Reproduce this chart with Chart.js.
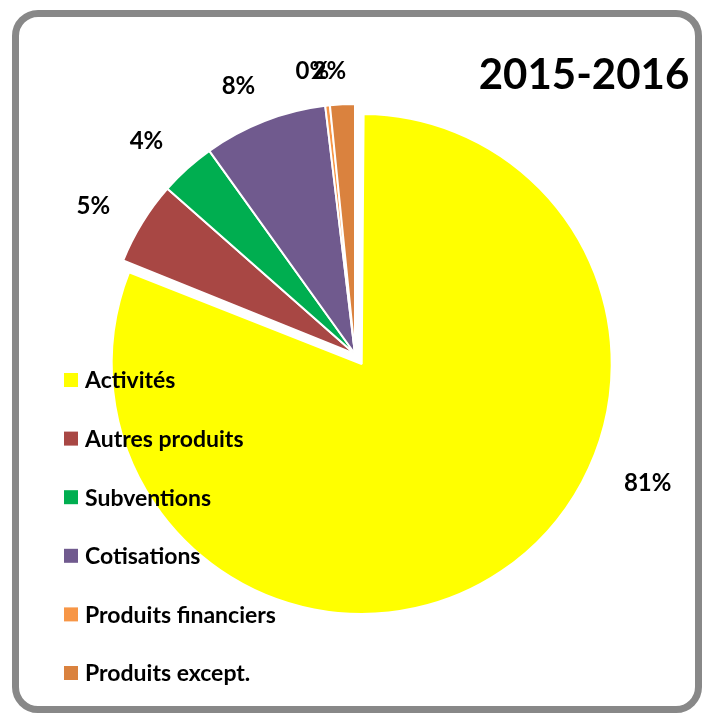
<!DOCTYPE html>
<html lang="fr">
<head>
    <meta charset="UTF-8">
    <title>Produits 2015-2016</title>
    <script src="https://cdn.jsdelivr.net/npm/chart.js"></script>
    <style>
        body { margin: 0; background: #fff; }
        .cadre {
            position: absolute; left: 12px; top: 10px;
            width: 676px; height: 689px;
            border: 7px solid #888888; border-radius: 26px;
        }
        #chart { position: absolute; left: 0; top: 0; }
    </style>
</head>
<body>
    <div class="cadre"></div>
    <canvas id="chart" width="704" height="714"></canvas>

    <script>
        const titre = '2015-2016';
        const categories = ['Activités', 'Autres produits', 'Subventions', 'Cotisations', 'Produits financiers', 'Produits except.'];
        const valeurs = [81.1, 5.4, 3.6, 8.0, 0.3, 1.6];
        const etiquettes = ['81%', '5%', '4%', '8%', '0%', '2%'];
        const couleurs = ['#FFFF00', '#A84744', '#00AE50', '#705A8E', '#F79646', '#DA823E'];

        const police = 'Lato, "DejaVu Sans", sans-serif';
        const decalage = 48; // secteur Activités detache

        // Chart.js agrandit aussi le rayon du secteur detache (offset/4) : on compense
        const memeRayon = {
            id: 'memeRayon',
            afterDatasetsUpdate(chart) {
                const arcs = chart.getDatasetMeta(0).data;
                arcs.forEach(a => {
                    a.outerRadius = a.outerRadius - (a.options.offset || 0) / 4;
                });
            }
        };

        // titre, legende et pourcentages dessines a la main
        const decor = {
            id: 'decor',
            afterDraw(chart) {
                const ctx = chart.ctx;
                const arcs = chart.getDatasetMeta(0).data;
                const R = chart.options.radius;
                ctx.save();
                ctx.fillStyle = '#000';
                ctx.textBaseline = 'middle';

                ctx.font = 'bold 42px ' + police;
                ctx.textAlign = 'center';
                ctx.fillText(titre, 584, 75);

                // pourcentages, a l'exterieur du secteur (comme Excel, un peu decales)
                ctx.font = 'bold 24px ' + police;
                arcs.forEach((a, i) => {
                    const p = a.getProps(['x', 'y', 'startAngle', 'endAngle']);
                    let ang = (p.startAngle + p.endAngle) / 2 - 0.04;
                    const w = ctx.measureText(etiquettes[i]).width;
                    let d = R + 22 + Math.abs(Math.cos(ang)) * w * 0.8 + Math.abs(Math.sin(ang)) * 10;
                    if (valeurs[i] > 50) {
                        ang = p.startAngle + (p.endAngle - p.startAngle) * 0.39;
                        d = R + 70;
                    }
                    ctx.fillText(etiquettes[i], p.x + Math.cos(ang) * d, p.y + Math.sin(ang) * d);
                });

                // legende
                ctx.textAlign = 'left';
                ctx.font = 'bold 23px ' + police;
                categories.forEach((c, i) => {
                    const y = 380 + i * 58.6;
                    ctx.fillStyle = couleurs[i];
                    ctx.fillRect(64, y - 7, 14, 14);
                    ctx.fillStyle = '#000';
                    ctx.fillText(c, 85, y + 1);
                });
                ctx.restore();
            }
        };

        new Chart(document.getElementById('chart'), {
            type: 'pie',
            data: {
                labels: categories,
                datasets: [{
                    data: valeurs,
                    backgroundColor: couleurs,
                    borderColor: '#ffffff',
                    borderWidth: 2,
                    offset: [decalage, 0, 0, 0, 0, 0]
                }]
            },
            options: {
                responsive: false,
                animation: false,
                radius: 250,
                layout: { padding: { left: 6, right: 0, top: 0, bottom: 6 } },
                plugins: {
                    legend: { display: false },
                    tooltip: { enabled: false }
                }
            },
            plugins: [memeRayon, decor]
        });
    </script>
</body>
</html>
